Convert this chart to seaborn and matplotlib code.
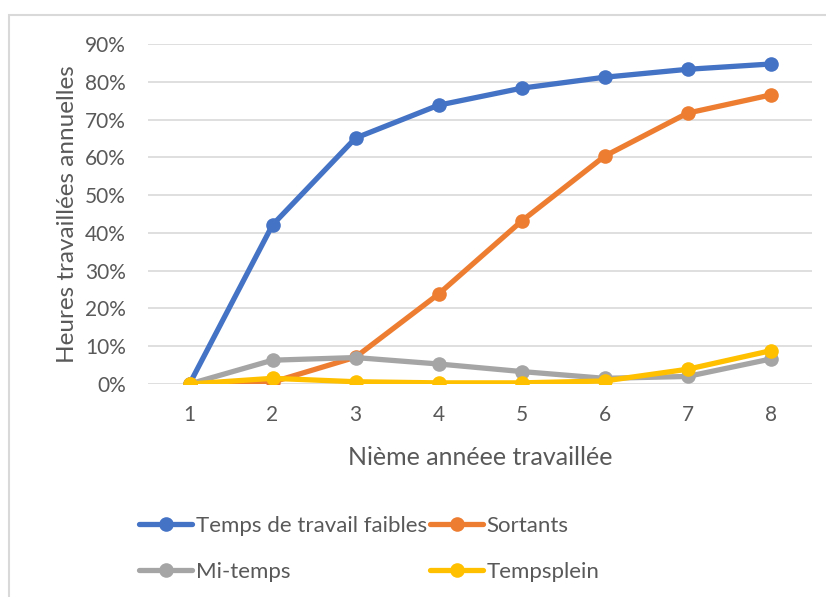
import matplotlib
matplotlib.use("Agg")
import matplotlib.pyplot as plt
import seaborn as sns
import pandas as pd
from matplotlib.patches import Rectangle
from matplotlib.ticker import PercentFormatter

years = [1, 2, 3, 4, 5, 6, 7, 8]
series_names = ["Temps de travail faibles", "Sortants", "Mi-temps", "Tempsplein"]
temps_faibles = [0.0, 0.421, 0.651, 0.738, 0.783, 0.812, 0.833, 0.847]
sortants = [0.0, 0.005, 0.071, 0.238, 0.431, 0.603, 0.717, 0.765]
mi_temps = [0.0, 0.063, 0.070, 0.053, 0.033, 0.015, 0.020, 0.066]
temps_plein = [0.0, 0.015, 0.006, 0.003, 0.003, 0.008, 0.039, 0.088]
colors = ["#4472C4", "#ED7D31", "#A5A5A5", "#FFC000"]

rows = []
for name, vals in zip(series_names, [temps_faibles, sortants, mi_temps, temps_plein]):
    for x, v in zip(years, vals):
        rows.append({"year": x, "value": v, "series": name})
df = pd.DataFrame(rows)

sns.set_style("white")
plt.rcParams["font.family"] = ["Lato", "DejaVu Sans"]
text_color = "#595959"

fig = plt.figure(figsize=(8.26, 5.97), dpi=100)
ax = fig.add_axes([148/826, 1-384/597, (812-148)/826, (384-44)/597])

sns.lineplot(data=df, x="year", y="value", hue="series", hue_order=series_names,
             palette=colors, marker="o", markersize=10.5, markeredgewidth=0,
             linewidth=3.8, ax=ax, legend=False, zorder=3)

ax.set_xlim(0.5, 8.5)
ax.set_ylim(0, 0.9)
ax.set_xticks(years)
ax.set_yticks([i/10 for i in range(10)])
ax.yaxis.set_major_formatter(PercentFormatter(1.0, decimals=0))
ax.grid(axis="y", color="#D9D9D9", linewidth=1.2)
ax.set_axisbelow(True)
for s in ax.spines.values():
    s.set_visible(False)
ax.tick_params(axis="both", length=0, labelsize=15, colors=text_color)
ax.tick_params(axis="x", pad=15)
ax.tick_params(axis="y", pad=16)
ax.set_xlabel("Nième annéee travaillée", fontsize=18, color=text_color, labelpad=15)
ax.set_ylabel("Heures travaillées annuelles", fontsize=17.5, color=text_color, labelpad=5)

handles = [plt.Line2D([], [], color=c, linewidth=3.8, marker="o", markersize=10.5,
                      markeredgewidth=0) for c in colors]
order = [0, 2, 1, 3]
leg = fig.legend([handles[i] for i in order], [series_names[i] for i in order],
                 ncol=2, loc="upper left",
                 bbox_to_anchor=(119/826, 1-496/597), frameon=False,
                 fontsize=16, handlelength=2.4, handletextpad=0.15,
                 columnspacing=0.15, labelspacing=1.15)
for t in leg.get_texts():
    t.set_color(text_color)

fig.patches.append(Rectangle((9/826, -0.1), 1.2, 1-15/597+0.1, transform=fig.transFigure,
                             fill=False, edgecolor="#D9D9D9", linewidth=1.5))

fig.savefig("out.png", dpi=100)
